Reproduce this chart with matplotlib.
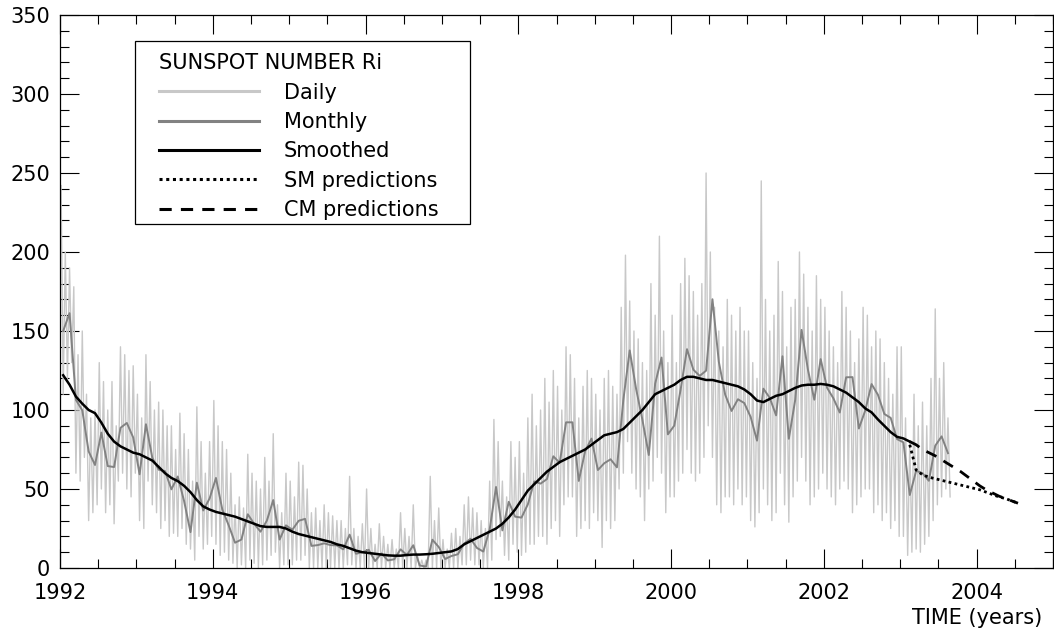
import matplotlib.pyplot as plt
import numpy as np
from matplotlib.patches import Rectangle
from matplotlib.ticker import MultipleLocator

# monthly mean sunspot number, Jan 1992 .. Aug 2003
monthly = [
    150.0, 161.3, 106.4, 99.8, 73.8, 65.2, 85.7, 64.5, 63.9, 88.7, 91.8, 82.6,
    59.3, 91.0, 69.8, 62.2, 61.3, 49.8, 57.9, 42.3, 22.7, 54.0, 36.4, 44.0,
    57.0, 37.0, 27.0, 16.0, 18.0, 34.0, 28.0, 23.0, 30.0, 43.0, 18.0, 27.0,
    24.2, 29.9, 31.1, 14.0, 14.5, 15.6, 14.5, 14.3, 11.8, 21.1, 9.0, 10.0,
    11.5, 4.4, 9.2, 4.8, 5.5, 11.8, 8.2, 14.4, 1.6, 0.9, 17.9, 13.3,
    5.7, 7.6, 8.7, 15.5, 18.5, 12.7, 10.4, 24.4, 51.3, 23.8, 41.9, 32.5,
    31.9, 40.3, 54.8, 53.4, 56.3, 70.7, 66.6, 92.2, 92.2, 55.1, 74.0, 81.9,
    62.0, 66.3, 68.8, 63.7, 106.4, 137.7, 113.5, 93.7, 71.5, 116.7, 133.2, 84.6,
    90.1, 112.9, 138.5, 125.5, 121.6, 124.9, 170.1, 130.5, 109.7, 99.4, 106.8, 104.4,
    95.6, 80.6, 113.5, 107.7, 96.6, 134.0, 81.8, 106.4, 150.7, 125.5, 106.5, 132.2,
    114.1, 107.4, 98.4, 120.7, 120.8, 88.3, 99.6, 116.4, 109.6, 97.5, 95.0, 81.6,
    79.5, 46.2, 61.5, 60.0, 55.2, 77.4, 83.3, 72.7,
]

# 13-month smoothed, Jan 1992 .. Feb 2003
smoothed = [
    122, 116, 108.5, 104, 100, 98, 92, 85, 80, 77, 75, 73,
    72, 70, 68, 64, 60, 57, 55, 52, 48, 43, 39, 37,
    35.5, 34.5, 33.5, 32.5, 31, 29.5, 28, 26.5, 26, 26, 26, 25,
    23, 21.5, 20.5, 19.5, 18.5, 17.5, 16.5, 15, 14, 12.5, 11, 10,
    9.5, 9, 8.5, 8, 7.8, 7.8, 8.2, 8.5, 8.5, 8.7, 9, 9.5,
    10, 10.5, 12, 15, 17, 19, 21, 23, 25, 28, 32, 37,
    43, 49, 53, 57, 61, 64, 67, 69, 71, 73, 75, 78,
    81, 84, 85, 86, 88, 92, 96, 100, 105, 110, 112, 114,
    116, 119, 121, 121, 120, 119, 119, 118, 117, 116, 115, 113,
    110, 106, 105, 107, 109, 110, 112, 114, 115.5, 116, 116, 116.5,
    116, 115, 113, 111, 108, 105, 101, 98.5, 94, 90, 86, 83,
    82, 80,
]

# daily values, three samples per month (1992 .. Aug 2003)
daily = [
    242, 110, 200, 120, 190, 130, 178, 60, 135, 55, 150, 70, 110, 30, 95, 35, 100, 40,
    130, 50, 118, 35, 100, 40, 118, 28, 90, 55, 140, 60, 135, 50, 125, 45, 128, 60,
    110, 30, 95, 25, 135, 55, 118, 40, 100, 35, 105, 25, 100, 30, 90, 20, 90, 22,
    75, 20, 98, 25, 85, 15, 75, 12, 55, 5, 102, 20, 80, 12, 60, 15, 80, 20,
    106, 15, 90, 8, 80, 10, 75, 5, 60, 3, 40, 0, 45, 2, 38, 0, 72, 5,
    60, 3, 55, 0, 50, 2, 70, 5, 55, 8, 85, 10, 40, 0, 35, 2, 60, 2,
    55, 2, 45, 5, 67, 5, 65, 8, 50, 0, 35, 0, 38, 0, 30, 0, 40, 0,
    35, 0, 33, 0, 30, 0, 30, 0, 25, 2, 58, 2, 25, 0, 20, 0, 28, 0,
    50, 0, 25, 0, 15, 0, 28, 0, 20, 0, 15, 0, 18, 0, 12, 0, 35, 0,
    25, 0, 20, 0, 40, 0, 8, 0, 5, 0, 5, 0, 58, 0, 30, 0, 38, 0,
    18, 0, 12, 0, 22, 0, 25, 0, 20, 2, 40, 2, 45, 5, 38, 2, 35, 2,
    30, 0, 25, 0, 55, 5, 94, 18, 80, 20, 55, 8, 45, 5, 80, 15, 70, 10,
    80, 8, 60, 10, 95, 15, 110, 15, 90, 20, 100, 20, 120, 15, 105, 25, 125, 30,
    115, 20, 100, 40, 140, 45, 135, 45, 120, 20, 95, 25, 115, 30, 125, 25, 120, 35,
    110, 30, 100, 13, 120, 30, 125, 25, 115, 30, 110, 50, 165, 60, 198, 80, 169, 60,
    150, 50, 145, 45, 130, 30, 125, 50, 180, 55, 160, 70, 210, 60, 150, 35, 130, 45,
    160, 45, 130, 55, 180, 60, 196, 75, 185, 60, 175, 55, 160, 60, 180, 70, 250, 90,
    200, 70, 165, 40, 150, 35, 140, 45, 170, 45, 160, 40, 150, 50, 165, 40, 150, 45,
    150, 30, 130, 26, 120, 35, 245, 50, 170, 40, 150, 30, 160, 35, 194, 60, 175, 40,
    140, 29, 165, 45, 170, 55, 200, 70, 186, 55, 165, 40, 150, 45, 185, 50, 170, 60,
    165, 50, 150, 45, 140, 40, 130, 50, 175, 55, 165, 50, 150, 35, 130, 40, 145, 45,
    165, 50, 160, 50, 140, 35, 150, 40, 145, 30, 130, 35, 120, 25, 110, 30, 140, 20,
    140, 20, 95, 8, 80, 10, 110, 12, 90, 10, 105, 15,
    90, 20, 120, 30, 164, 40, 120, 45, 130, 50, 95, 45,
]

# predictions, Feb 2003 .. Jul 2004
sm_pred = [78, 62, 59, 57.5, 56.5, 55.5, 54.5, 53.5, 52.5, 51.5, 50.5, 49.5, 48, 46.5, 45, 44, 42.5, 41]
cm_pred = [80, 78, 75, 73, 71, 68.5, 66, 63.5, 61, 58, 55, 52, 49.5, 47.5, 45.5, 44, 42.5, 41]

t_monthly = 1992 + (np.arange(len(monthly)) + 0.5) / 12
t_smoothed = 1992 + (np.arange(len(smoothed)) + 0.5) / 12
t_daily = 1992 + (np.arange(len(daily)) + 0.5) / 36
t_pred = 1992 + (np.arange(len(sm_pred)) + 133.5) / 12

plt.rcParams['font.family'] = 'DejaVu Sans'
fig = plt.figure(figsize=(10.54, 6.36), dpi=100)
ax = fig.add_axes([60 / 1054, 68 / 636, 993 / 1054, 553 / 636])

l_daily, = ax.plot(t_daily, daily, color='#c8c8c8', lw=1.0)
l_month, = ax.plot(t_monthly, monthly, color='#828282', lw=1.4)
l_smooth, = ax.plot(t_smoothed, smoothed, color='black', lw=1.8)
l_sm, = ax.plot(t_pred, sm_pred, color='black', lw=2, linestyle=(0, (1, 1.2)))
l_cm, = ax.plot(t_pred, cm_pred, color='black', lw=2, linestyle=(0, (4, 3)))

ax.set_xlim(1992, 2005)
ax.set_ylim(0, 350)
ax.xaxis.set_major_locator(MultipleLocator(2))
ax.xaxis.set_minor_locator(MultipleLocator(0.5))
ax.yaxis.set_major_locator(MultipleLocator(50))
ax.yaxis.set_minor_locator(MultipleLocator(10))
ax.tick_params(which='both', direction='in', top=True, right=True, width=0.8, labelsize=15)
ax.tick_params(which='major', length=14)
ax.tick_params(which='minor', length=6.5)
ax.tick_params(axis='x', pad=10.5)
ax.tick_params(axis='y', pad=7)
for s in ax.spines.values():
    s.set_linewidth(0.9)

ax.set_xlabel('TIME (years)', fontsize=15, loc='right')
ax.xaxis.set_label_coords((1042 - 60) / 993, -0.072)

# legend box drawn separately so the padding can match the original
ax.add_patch(Rectangle((0.0755, 0.622), 0.3374, 0.331, transform=ax.transAxes,
                       facecolor='white', edgecolor='black', lw=0.9, zorder=4))
leg = ax.legend([l_daily, l_month, l_smooth, l_sm, l_cm],
                ['Daily', 'Monthly', 'Smoothed', 'SM predictions', 'CM predictions'],
                title='SUNSPOT NUMBER Ri', title_fontsize=15, fontsize=15,
                loc='upper left', bbox_to_anchor=(0.0997, 0.931), borderaxespad=0,
                frameon=False, handlelength=4.8, handletextpad=1.2, borderpad=0,
                labelspacing=0.45, alignment='left')
leg.set_zorder(5)
for h in leg.get_lines():
    h.set_linewidth(2.2)

fig.savefig('out.png', dpi=100)
